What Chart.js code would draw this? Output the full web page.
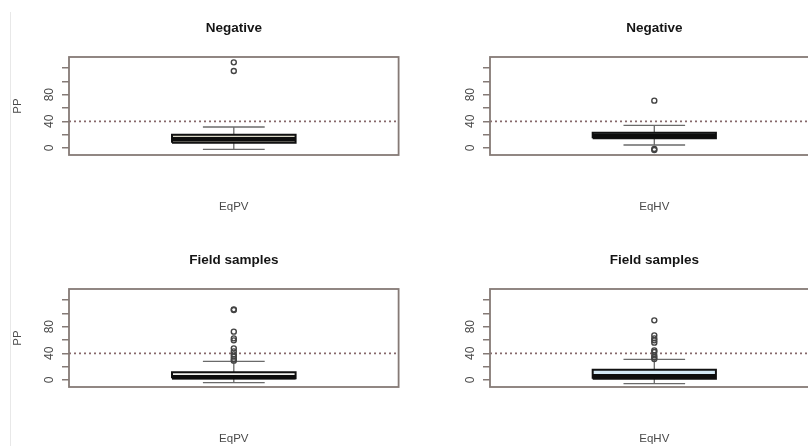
<!DOCTYPE html>
<html>
<head>
<meta charset="utf-8">
<title>PP boxplots</title>
<script src="https://cdn.jsdelivr.net/npm/chart.js@4.4.1/dist/chart.umd.min.js"></script>
<style>
  html, body { margin: 0; padding: 0; width: 808px; height: 446px; overflow: hidden; background: #fff; }
  .panel { position: absolute; }
  #edge { position: absolute; left: 10px; top: 12px; height: 434px; border-left: 1px solid #e8e8e8; }
</style>
</head>
<body>
<div id="edge"></div>
<div class="panel" style="left:0;top:0"><canvas id="c0" width="404" height="223"></canvas></div>
<div class="panel" style="left:404px;top:0"><canvas id="c1" width="420" height="223"></canvas></div>
<div class="panel" style="left:0;top:232px"><canvas id="c2" width="404" height="223"></canvas></div>
<div class="panel" style="left:404px;top:232px"><canvas id="c3" width="420" height="223"></canvas></div>
<script>
// ===== dados =====
const titles = ['Negative', 'Negative', 'Field samples', 'Field samples'];
const groupLabels = ['EqPV', 'EqHV', 'EqPV', 'EqHV'];

// [bigode inferior, Q1, mediana, Q3, bigode superior]
const negativePV = [-2, 8, 13, 20, 31.5];
const negativeHV = [4.5, 14.5, 18.5, 23, 34];
const fieldPV = [-4, 2.5, 4, 11.5, 28];
const fieldHV = [-5.5, 2, 5.5, 15.5, 31];

// outliers
const negativePVOut = [115.5, 128.5];
const negativeHVOut = [71, -1.5, -3];
const fieldPVOut = [106, 105, 72.5, 62.5, 59.5, 47.5, 43, 38.5, 35, 31.5, 29];
const fieldHVOut = [89.5, 67, 62.5, 59.5, 56, 44.5, 42, 37, 34, 31.5];

const threshold = 40;
const yTicks = [0, 20, 40, 60, 80, 100, 120];
const yTickLabels = ['0', '', '40', '', '80', '', ''];
const yMin = -10.5;
const yMax = 136.5;

// cores das caixas
const boxFills = ['#d9d7c6', '#b9cdd6', '#f3f3f0', '#d3e8f4'];

const FONT = '"Liberation Sans", Arial, Helvetica, sans-serif';
const GREY = '#4a4a4a';
const FRAME = '#857a76';

/**
 * Moldura em volta da área do gráfico (estilo R).
 */
const framePlugin = {
  id: 'frame',
  afterDatasetsDraw(chart) {
    const { ctx, chartArea: a } = chart;
    ctx.save();
    ctx.strokeStyle = FRAME;
    ctx.lineWidth = 1.8;
    ctx.strokeRect(a.left, a.top, a.right - a.left, a.bottom - a.top);
    ctx.restore();
  }
};

/**
 * Segmento de linha simples (bigodes, caixa, mediana...).
 */
function segment(points, extra) {
  return Object.assign({
    data: points,
    showLine: true,
    pointRadius: 0,
    fill: false,
    borderColor: '#6a6a6a',
    borderWidth: 1.3,
    order: 4
  }, extra);
}

/**
 * Monta os datasets de um boxplot a partir das estatísticas.
 */
function buildDatasets(stats, outliers, fillColor) {
  const [lo, q1, med, q3, hi] = stats;
  const c = 1, bw = 0.375, sw = 0.1875;

  return [
    {
      data: outliers.map(v => ({ x: c, y: v })),
      showLine: false,
      pointStyle: 'circle',
      pointRadius: 2.5,
      pointBorderWidth: 1.4,
      pointBorderColor: '#444',
      pointBackgroundColor: 'rgba(0,0,0,0)',
      order: 1
    },
    segment([{ x: c - bw, y: med }, { x: c + bw, y: med }], { borderColor: '#0d0d0d', borderWidth: 4.5, order: 2 }),
    segment([
      { x: c - bw, y: q1 }, { x: c + bw, y: q1 }, { x: c + bw, y: q3 },
      { x: c - bw, y: q3 }, { x: c - bw, y: q1 }
    ], { borderColor: '#111', borderWidth: 2, borderJoinStyle: 'miter', order: 3 }),
    segment([{ x: c, y: q3 }, { x: c, y: hi }]),
    segment([{ x: c - sw, y: hi }, { x: c + sw, y: hi }]),
    segment([{ x: c, y: q1 }, { x: c, y: lo }]),
    segment([{ x: c - sw, y: lo }, { x: c + sw, y: lo }]),
    segment([{ x: c - bw, y: q3 }, { x: c + bw, y: q3 }], {
      borderWidth: 0, fill: { value: q1 }, backgroundColor: fillColor, order: 5
    }),
    segment([{ x: 0, y: threshold }, { x: 2, y: threshold }], {
      borderColor: '#86696b', borderWidth: 1.6, borderDash: [2, 3], order: 6
    })
  ];
}

/**
 * Cria um painel.
 */
function createPanel(canvasId, idx, stats, outliers, axisWidth, showYTitle, padRight) {
  const ctx = document.getElementById(canvasId).getContext('2d');
  return new Chart(ctx, {
    type: 'line',
    data: { datasets: buildDatasets(stats, outliers, boxFills[idx]) },
    plugins: [framePlugin],
    options: {
      responsive: false,
      animation: false,
      events: [],
      layout: { padding: { left: 0, right: padRight, top: 0, bottom: 0 } },
      plugins: {
        legend: { display: false },
        tooltip: { enabled: false },
        title: {
          display: true,
          text: titles[idx],
          fullSize: false,
          color: '#151515',
          font: { family: FONT, size: 13.5, weight: 'bold' },
          padding: { top: 20, bottom: 20.8 }
        }
      },
      scales: {
        x: {
          type: 'linear',
          min: 0,
          max: 2,
          ticks: { display: false },
          grid: { display: false },
          border: { display: false },
          title: {
            display: true,
            text: groupLabels[idx],
            color: GREY,
            font: { family: FONT, size: 11.5 },
            padding: { top: 0, bottom: 9 }
          },
          afterFit: scale => { scale.height = 68; }
        },
        y: {
          min: yMin,
          max: yMax,
          afterBuildTicks: scale => { scale.ticks = yTicks.map(v => ({ value: v })); },
          ticks: {
            autoSkip: false,
            minRotation: 90,
            maxRotation: 90,
            crossAlign: 'center',
            padding: 6,
            color: GREY,
            font: { family: FONT, size: 12 },
            callback: (value) => {
              const i = yTicks.indexOf(value);
              return i >= 0 ? yTickLabels[i] : '';
            }
          },
          grid: {
            drawOnChartArea: false,
            drawTicks: true,
            tickLength: 7,
            color: FRAME,
            lineWidth: 1.5
          },
          border: { display: false },
          title: {
            display: showYTitle,
            text: 'PP',
            color: GREY,
            font: { family: FONT, size: 11.5 },
            padding: { top: 11, bottom: 0 }
          },
          afterFit: scale => { scale.width = axisWidth; }
        }
      }
    }
  });
}

createPanel('c0', 0, negativePV, negativePVOut, 69, true, 4);
createPanel('c1', 1, negativeHV, negativeHVOut, 86, false, 2);
createPanel('c2', 2, fieldPV, fieldPVOut, 69, true, 4);
createPanel('c3', 3, fieldHV, fieldHVOut, 86, false, 2);
</script>
</body>
</html>
